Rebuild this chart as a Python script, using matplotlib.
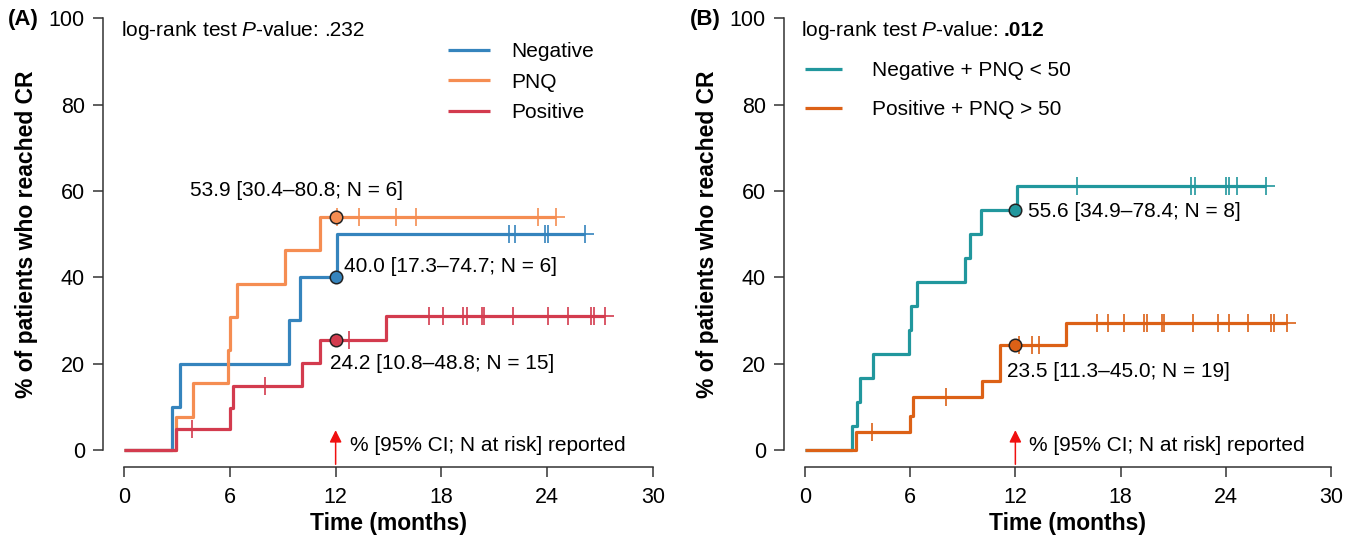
import numpy as np
import matplotlib
matplotlib.use('Agg')
from matplotlib import pyplot as plt

plt.rcParams['font.family'] = ['Liberation Sans', 'DejaVu Sans']
plt.rcParams['mathtext.fontset'] = 'custom'
plt.rcParams['mathtext.rm'] = 'Liberation Sans'
plt.rcParams['mathtext.it'] = 'Liberation Sans:italic'
plt.rcParams['mathtext.bf'] = 'Liberation Sans:bold'

# Panel A: cumulative % of patients reaching CR
neg_times = [0, 2.7, 3.18, 9.38, 9.98, 12.1]
neg_values = [0, 10, 20, 30, 40, 50]
neg_censor = [21.86, 22.2, 23.88, 24.07, 26.15]

pnq_times = [0, 2.95, 3.93, 5.92, 6.03, 6.39, 9.13, 11.12]
pnq_values = [0, 7.7, 15.4, 23.1, 30.8, 38.5, 46.2, 53.9]
pnq_censor = [12.1, 13.35, 15.43, 16.56, 23.46, 24.5]

pos_times = [0, 2.95, 6.03, 6.2, 10.1, 11.12, 14.86]
pos_values = [0, 4.8, 9.8, 14.8, 20.1, 25.4, 31.1]
pos_censor = [3.84, 8.0, 12.78, 17.3, 18.1, 19.25, 19.47, 20.33, 20.42,
              22.08, 24.07, 25.2, 26.47, 26.66, 27.28]

# Panel B
lo_times = [0, 2.66, 2.95, 3.14, 3.9, 5.95, 6.03, 6.4, 9.13, 9.41, 10.04, 12.1]
lo_values = [0, 5.6, 11.1, 16.7, 22.2, 27.8, 33.3, 38.9, 44.4, 50.0, 55.6, 61.1]
lo_censor = [15.5, 22.0, 22.25, 24.0, 24.17, 24.63, 26.3]

hi_times = [0, 2.91, 5.99, 6.18, 10.08, 11.12, 14.87]
hi_values = [0, 4.1, 7.9, 12.2, 16.0, 24.3, 29.5]
hi_censor = [3.8, 8.03, 12.23, 12.97, 13.37, 16.64, 17.3, 18.2, 19.34, 19.53,
             20.35, 20.45, 22.15, 23.58, 24.17, 25.29, 26.6, 26.75, 27.48]

labels_a = ['Negative', 'PNQ', 'Positive']
labels_b = ['Negative + PNQ < 50', 'Positive + PNQ > 50']
colors_a = ['#3584bd', '#f58d52', '#d33b4e']
colors_b = ['#21979d', '#dc6116']

ann_a = ['40.0 [17.3–74.7; N = 6]', '53.9 [30.4–80.8; N = 6]', '24.2 [10.8–48.8; N = 15]']
ann_b = ['55.6 [34.9–78.4; N = 8]', '23.5 [11.3–45.0; N = 19]']
pvalue_a = '.232'
pvalue_b = '.012'
landmark = 12
x_ticks = [0, 6, 12, 18, 24, 30]
y_ticks = [0, 20, 40, 60, 80, 100]


def value_at(times, values, t):
    return values[np.searchsorted(times, t, side='right') - 1]


def draw_curve(ax, times, values, censor, color, label):
    end = max(censor)
    t = list(times) + [end]
    v = list(values) + [values[-1]]
    ax.step(t, v, where='post', color=color, lw=2.3, label=label, solid_capstyle='butt')
    cv = [value_at(times, values, c) for c in censor]
    ax.plot(censor, cv, ls='none', marker='+', ms=13, mew=1.2, color=color)
    ax.plot([landmark], [value_at(times, values, landmark)], ls='none', marker='o', ms=9,
            mfc=color, mec='#222222', mew=1.1, zorder=5)


def style_axes(ax):
    ax.set_xlim(-1.2, 31.2)
    ax.set_ylim(-4, 104)
    for s in ['top', 'right']:
        ax.spines[s].set_visible(False)
    ax.spines['left'].set_bounds(0, 100)
    ax.spines['bottom'].set_bounds(0, 30)
    for s in ['left', 'bottom']:
        ax.spines[s].set_linewidth(1.1)
        ax.spines[s].set_color('#333333')
    ax.set_xticks(x_ticks)
    ax.set_yticks(y_ticks)
    ax.tick_params(axis='both', labelsize=15.5, length=7, width=1.1, color='#333333')
    ax.tick_params(axis='x', pad=7)
    ax.tick_params(axis='y', pad=6)
    ax.set_xlabel('Time (months)', fontsize=16.5, fontweight='bold', labelpad=3)
    ax.set_ylabel('% of patients who reached CR', fontsize=16.5, fontweight='bold', labelpad=8)
    ax.annotate('', xy=(landmark, 5.2), xytext=(landmark, -4),
                arrowprops=dict(arrowstyle='-|>', color='#f01010', lw=1.1, mutation_scale=18))
    ax.text(landmark + 0.8, 1.0, '% [95% CI; N at risk] reported', fontsize=15, va='center')


def pvalue_text(ax, x, pval, bold):
    t = ax.text(x, 97.2, r'log-rank test $\mathit{P}$-value:', fontsize=15, va='center')
    ax.annotate(pval, xy=(1, 0.5), xycoords=t, xytext=(4, 0), textcoords='offset points',
                va='center', ha='left', fontsize=15, fontweight='bold' if bold else 'normal')


fig = plt.figure(figsize=(13.57, 5.45), dpi=100)
ax_a = fig.add_axes([0.0759, 0.143, 0.4208, 0.855])
ax_b = fig.add_axes([0.5777, 0.143, 0.4186, 0.855])

draw_curve(ax_a, neg_times, neg_values, neg_censor, colors_a[0], labels_a[0])
draw_curve(ax_a, pnq_times, pnq_values, pnq_censor, colors_a[1], labels_a[1])
draw_curve(ax_a, pos_times, pos_values, pos_censor, colors_a[2], labels_a[2])
style_axes(ax_a)
pvalue_text(ax_a, -0.17, pvalue_a, False)
ax_a.text(12.5, 42.4, ann_a[0], fontsize=15, va='center')
ax_a.text(9.8, 60.0, ann_a[1], fontsize=15, va='center', ha='center')
ax_a.text(11.7, 20.1, ann_a[2], fontsize=15, va='center')
ax_a.legend(loc='upper left', bbox_to_anchor=(0.604, 0.912), frameon=False, fontsize=15,
            handlelength=2.0, handletextpad=1.05, labelspacing=0.55, borderpad=0, borderaxespad=0)

draw_curve(ax_b, lo_times, lo_values, lo_censor, colors_b[0], labels_b[0])
draw_curve(ax_b, hi_times, hi_values, hi_censor, colors_b[1], labels_b[1])
style_axes(ax_b)
pvalue_text(ax_b, -0.23, pvalue_b, True)
ax_b.text(12.74, 55.2, ann_b[0], fontsize=15, va='center')
ax_b.text(11.5, 18.1, ann_b[1], fontsize=15, va='center')
ax_b.legend(loc='upper left', bbox_to_anchor=(0.037, 0.871), frameon=False, fontsize=15,
            handlelength=1.8, handletextpad=1.4, labelspacing=0.95, borderpad=0, borderaxespad=0)

fig.text(8 / 1357, 1 - 19 / 545, '(A)', fontsize=16, fontweight='bold', va='center')
fig.text(690 / 1357, 1 - 19 / 545, '(B)', fontsize=16, fontweight='bold', va='center')

fig.savefig('out.png', dpi=100)
